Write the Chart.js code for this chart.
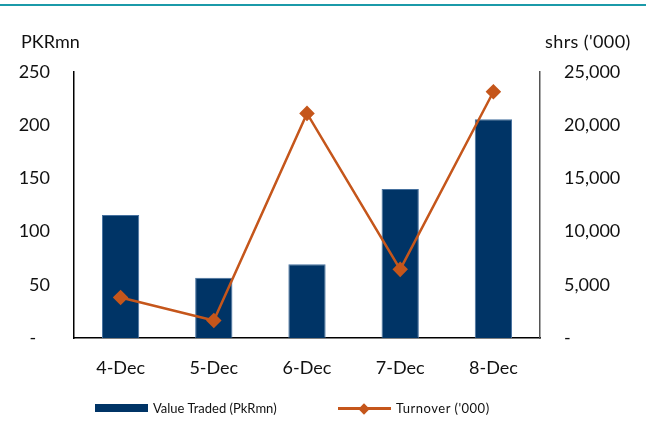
<!DOCTYPE html>
<html>
<head>
<meta charset="utf-8">
<script src="https://cdn.jsdelivr.net/npm/chart.js@4/dist/chart.umd.min.js"></script>
<style>
  html, body { margin: 0; padding: 0; background: #fff; }
  #wrap { position: relative; width: 646px; height: 423px; overflow: hidden; font-family: Lato, "Open Sans", sans-serif; }
  #c { position: absolute; left: 0; top: 0; }
  .topline { position: absolute; left: 0; top: 4px; width: 646px; height: 2px; background: #1b9aa9; }
  .axtitle { position: absolute; font-size: 18px; color: #111; line-height: 1; }
  .leg { position: absolute; top: 400px; font-size: 13px; color: #111; line-height: 16px; white-space: nowrap; }
  .barsw { position: absolute; width: 53px; height: 8px; background: #003466; top: 404px; left: 95px; }
  .linesw { position: absolute; width: 53px; height: 3px; background: #c5561b; top: 407px; left: 338px; }
  .dia { position: absolute; width: 8px; height: 8px; background: #c5561b; transform: rotate(45deg); top: 404.5px; left: 360px; }
</style>
</head>
<body>
<div id="wrap">
  <div class="topline"></div>
  <canvas id="c" width="646" height="423"></canvas>
  <div class="axtitle" style="left:21px; top:32px;">PKRmn</div>
  <div class="axtitle" style="left:545px; top:32px; letter-spacing:0.4px;">shrs ('000)</div>
  <div class="barsw"></div>
  <div class="leg" style="left:153px;">Value Traded (PkRmn)</div>
  <div class="linesw"></div>
  <div class="dia"></div>
  <div class="leg" style="left:396px; letter-spacing:0.5px;">Turnover ('000)</div>
</div>
<script>
const categories = ['4-Dec', '5-Dec', '6-Dec', '7-Dec', '8-Dec'];
const valueTraded = [115.6, 56.7, 69.2, 140, 205.5];
const turnover = [3814, 1648, 21111, 6450, 23145];
const leftTicks = [0, 50, 100, 150, 200, 250];
const rightTicks = [0, 5000, 10000, 15000, 20000, 25000];

const tickFont = { family: 'Lato', size: 18 };

new Chart(document.getElementById('c'), {
  data: {
    labels: categories,
    datasets: [
      {
        type: 'line',
        label: "Turnover ('000)",
        data: turnover,
        yAxisID: 'y1',
        borderColor: '#c5561b',
        backgroundColor: '#c5561b',
        borderWidth: 2.5,
        tension: 0,
        pointStyle: 'rectRot',
        pointRadius: 6,
        pointHoverRadius: 6,
        order: 0
      },
      {
        type: 'bar',
        label: 'Value Traded (PkRmn)',
        data: valueTraded,
        yAxisID: 'y',
        backgroundColor: '#003466',
        borderColor: '#46719f',
        borderWidth: 1,
        categoryPercentage: 1,
        barPercentage: 0.4,
        order: 1
      }
    ]
  },
  options: {
    responsive: false,
    animation: false,
    layout: { padding: { top: 72, left: 0, right: 0, bottom: 0 } },
    plugins: { legend: { display: false }, tooltip: { enabled: false } },
    scales: {
      x: {
        grid: { display: false, drawTicks: false },
        border: { display: true, color: '#000', width: 1.5 },
        ticks: { color: '#111', font: tickFont, padding: 19 },
        afterFit: s => { s.height = 85; }
      },
      y: {
        position: 'left',
        min: 0, max: 250,
        afterBuildTicks: s => { s.ticks = leftTicks.map(v => ({ value: v })); },
        grid: { display: false, drawTicks: false },
        border: { display: true, color: '#000', width: 1.5 },
        ticks: { color: '#111', font: tickFont, padding: 24,
          callback: v => v === 0 ? '-   ' : String(v) },
        afterFit: s => { s.width = 74; }
      },
      y1: {
        position: 'right',
        min: 0, max: 25000,
        afterBuildTicks: s => { s.ticks = rightTicks.map(v => ({ value: v })); },
        grid: { display: false, drawTicks: false },
        border: { display: true, color: '#555', width: 1.5 },
        ticks: { color: '#111', font: tickFont, padding: 24,
          callback: v => v === 0 ? '-' : v.toLocaleString('en-US') },
        afterFit: s => { s.width = 106; }
      }
    }
  }
});
</script>
</body>
</html>
